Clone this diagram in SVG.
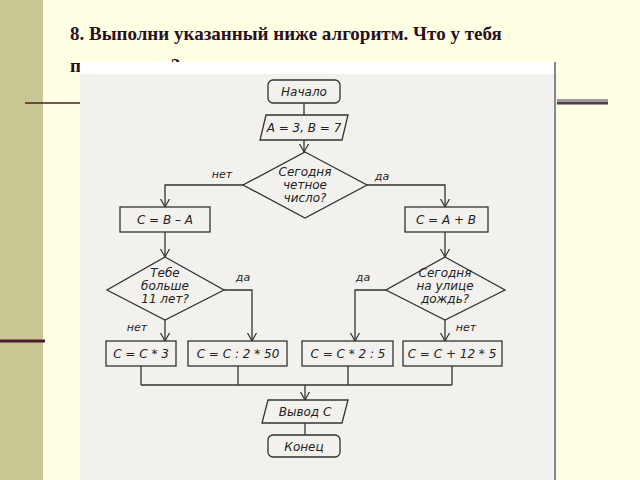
<svg xmlns="http://www.w3.org/2000/svg" width="640" height="480" viewBox="0 0 640 480">
<defs>
<marker id="ar" viewBox="0 0 10 10" refX="9" refY="5" markerWidth="7" markerHeight="7" orient="auto"><path d="M0,0 L9,5 L0,10" fill="none" stroke="#333" stroke-width="1.3"/></marker>
</defs>
<style>
.s{fill:none;stroke:#333;stroke-width:1.3}
.b{fill:#f3f1ee;stroke:#333;stroke-width:1.3}
.t{font-family:"DejaVu Sans",sans-serif;font-style:italic;font-size:12px;fill:#222;text-anchor:middle}
.l{font-family:"DejaVu Sans",sans-serif;font-style:italic;font-size:11px;fill:#222;text-anchor:middle}
</style>
<rect width="640" height="480" fill="#ffffe4"/>
<rect x="0" y="0" width="43" height="480" fill="#c9c894"/>
<line x1="0" y1="341" x2="45" y2="341" stroke="#4a1c2a" stroke-width="3"/>
<line x1="25" y1="103" x2="82" y2="103" stroke="#4a1c2a" stroke-width="1.5"/>
<rect x="555" y="99" width="53" height="6" fill="#9a9a9a"/>
<line x1="555" y1="103" x2="608" y2="103" stroke="#4a1c2a" stroke-width="1.5"/>
<text x="70" y="40" font-family="Liberation Serif,serif" font-weight="bold" font-size="19" fill="#2a0f1f">8. Выполни указанный ниже алгоритм. Что у тебя</text>
<text x="70" y="72" font-family="Liberation Serif,serif" font-weight="bold" font-size="19" fill="#2a0f1f">получилось?</text>
<rect x="80" y="62" width="477" height="418" fill="#f3f1ee"/>
<rect x="80" y="62" width="477" height="12" fill="#ffffff"/>
<line x1="555" y1="62" x2="555" y2="480" stroke="#888" stroke-width="2"/>
<g id="connectors">
<path class="s" d="M304,103 V115"/>
<path class="s" d="M304,140 V152" marker-end="url(#ar)"/>
<path class="s" d="M243,185 H165 V207" marker-end="url(#ar)"/>
<path class="s" d="M367,185 H445 V207" marker-end="url(#ar)"/>
<path class="s" d="M165,232 V257" marker-end="url(#ar)"/>
<path class="s" d="M445,232 V257" marker-end="url(#ar)"/>
<path class="s" d="M224,290 H252 V341" marker-end="url(#ar)"/>
<path class="s" d="M165,320 V341" marker-end="url(#ar)"/>
<path class="s" d="M386,290 H355 V341" marker-end="url(#ar)"/>
<path class="s" d="M445,320 V341" marker-end="url(#ar)"/>
<path class="s" d="M141,366 V385 M238,366 V385 M348,366 V385 M452,366 V385 M141,385 H452"/>
<path class="s" d="M305,385 V400" marker-end="url(#ar)"/>
<path class="s" d="M305,423 V435"/>
<text class="l" x="222" y="178">нет</text>
<text class="l" x="382" y="180">да</text>
<text class="l" x="243" y="281">да</text>
<text class="l" x="363" y="281">да</text>
<text class="l" x="137" y="331">нет</text>
<text class="l" x="466" y="331">нет</text>
</g>
<g id="start"><rect class="b" x="268" y="80" width="72" height="23" rx="5"/><text class="t" x="304" y="96">Начало</text></g>
<g id="init"><path class="b" d="M266,115 H348 L342,140 H260 Z"/><text class="t" x="304" y="132">A = 3, B = 7</text></g>
<g id="d1"><path class="b" d="M305,152 L367,185 L305,218 L243,185 Z"/><text class="t" x="305" y="176">Сегодня</text><text class="t" x="305" y="189">четное</text><text class="t" x="305" y="202">число?</text></g>
<g id="b1"><rect class="b" x="120" y="207" width="90" height="25"/><text class="t" x="165" y="224">C = B – A</text></g>
<g id="b2"><rect class="b" x="405" y="207" width="83" height="25"/><text class="t" x="446" y="224">C = A + B</text></g>
<g id="d2"><path class="b" d="M165,257 L224,290 L165,320 L107,290 Z"/><text class="t" x="165" y="277">Тебе</text><text class="t" x="165" y="290">больше</text><text class="t" x="165" y="303">11 лет?</text></g>
<g id="d3"><path class="b" d="M445,257 L505,290 L445,320 L386,290 Z"/><text class="t" x="445" y="277">Сегодня</text><text class="t" x="445" y="290">на улице</text><text class="t" x="445" y="303">дождь?</text></g>
<g id="b3"><rect class="b" x="106" y="341" width="70" height="25"/><text class="t" x="141" y="358">C = C * 3</text></g>
<g id="b4"><rect class="b" x="188" y="341" width="99" height="25"/><text class="t" x="238" y="358">C = C : 2 * 50</text></g>
<g id="b5"><rect class="b" x="302" y="341" width="91" height="25"/><text class="t" x="348" y="358">C = C * 2 : 5</text></g>
<g id="b6"><rect class="b" x="403" y="341" width="99" height="25"/><text class="t" x="452" y="358">C = C + 12 * 5</text></g>
<g id="out"><path class="b" d="M268,400 H348 L342,423 H262 Z"/><text class="t" x="305" y="416">Вывод C</text></g>
<g id="end"><rect class="b" x="268" y="435" width="72" height="22" rx="5"/><text class="t" x="304" y="451">Конец</text></g>
</svg>
